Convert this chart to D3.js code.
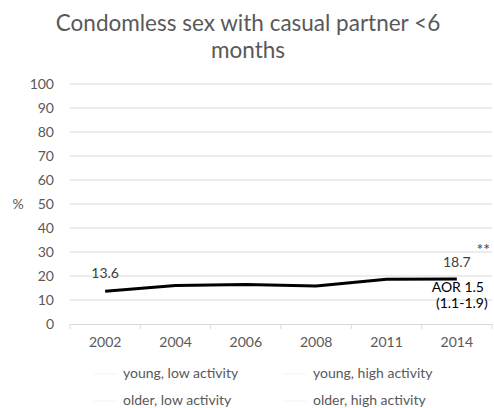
<!DOCTYPE html>
<html>
<head>
<meta charset="utf-8">
<script src="https://cdn.jsdelivr.net/npm/d3@7"></script>
<style>
  body { margin: 0; background: #fff; }
  text { font-family: Lato, "Open Sans", sans-serif; }
</style>
</head>
<body>
<div id="chart"></div>
<script>
// data
const years = ["2002", "2004", "2006", "2008", "2011", "2014"];
const values = [13.6, 16.0, 16.5, 15.8, 18.6, 18.7];
const yTicks = [0, 10, 20, 30, 40, 50, 60, 70, 80, 90, 100];
const legendLabels = ["young, low activity", "young, high activity", "older, low activity", "older, high activity"];

const W = 494, H = 408;
const margin = { top: 84, right: 2, bottom: 84, left: 70 };
const width = W - margin.left - margin.right;
const height = H - margin.top - margin.bottom;
const fs = 14;

const svg = d3.select("#chart")
    .append("svg")
    .attr("width", W)
    .attr("height", H);

// Title
svg.append("text")
    .attr("x", W / 2 + 1).attr("y", 31)
    .attr("text-anchor", "middle")
    .attr("font-size", 22.5)
    .attr("fill", "#595959")
    .text("Condomless sex with casual partner <6");
svg.append("text")
    .attr("x", W / 2 + 1).attr("y", 58)
    .attr("text-anchor", "middle")
    .attr("font-size", 22.5)
    .attr("fill", "#595959")
    .text("months");

const g = svg.append("g")
    .attr("transform", `translate(${margin.left},${margin.top})`);

const x = d3.scaleBand().domain(years).range([0, width]);
const y = d3.scaleLinear().domain([0, 100]).range([height, 0]);

// Gridlines
g.append("g")
    .selectAll("line")
    .data(yTicks.filter(d => d > 0))
    .enter().append("line")
    .attr("x1", 0).attr("x2", width)
    .attr("y1", d => y(d)).attr("y2", d => y(d))
    .attr("stroke", "#d9d9d9")
    .attr("stroke-width", 1);

// Y axis
const yAxis = g.append("g")
    .call(d3.axisLeft(y).tickValues(yTicks).tickSize(0).tickPadding(16));
yAxis.select(".domain").remove();
yAxis.selectAll("text")
    .attr("font-size", fs)
    .attr("fill", "#595959")
    .style("font-family", "Lato, 'Open Sans', sans-serif");

// X axis
const xAxis = g.append("g")
    .attr("transform", `translate(0,${height})`)
    .call(d3.axisBottom(x).tickSize(0).tickPadding(13));
xAxis.select(".domain").attr("stroke", "#d9d9d9");
xAxis.selectAll("text")
    .attr("font-size", fs)
    .attr("fill", "#595959")
    .style("font-family", "Lato, 'Open Sans', sans-serif");
// tick marks between categories
g.append("g")
    .selectAll("line")
    .data(years)
    .enter().append("line")
    .attr("x1", d => x(d)).attr("x2", d => x(d))
    .attr("y1", height).attr("y2", height + 5)
    .attr("stroke", "#d9d9d9");
g.append("line")
    .attr("x1", width).attr("x2", width)
    .attr("y1", height).attr("y2", height + 5)
    .attr("stroke", "#d9d9d9");

// y label
svg.append("text")
    .attr("x", 18).attr("y", y(50) + margin.top + 5)
    .attr("text-anchor", "middle")
    .attr("font-size", fs)
    .attr("fill", "#595959")
    .text("%");

// Line
const line = d3.line()
    .x((d, i) => x(years[i]) + x.bandwidth() / 2)
    .y(d => y(d));
g.append("path")
    .datum(values)
    .attr("fill", "none")
    .attr("stroke", "#000")
    .attr("stroke-width", 3)
    .attr("d", line);

// Data labels
const cx = i => x(years[i]) + x.bandwidth() / 2;
g.append("text")
    .attr("x", cx(0)).attr("y", y(values[0]) - 13)
    .attr("text-anchor", "middle")
    .attr("font-size", fs)
    .attr("fill", "#404040")
    .text(values[0].toFixed(1));
const last = values.length - 1;
g.append("text")
    .attr("x", cx(last)).attr("y", y(values[last]) - 12)
    .attr("text-anchor", "middle")
    .attr("font-size", fs)
    .attr("fill", "#404040")
    .text(values[last].toFixed(1));
g.append("text")
    .attr("x", width - 2).attr("y", y(values[last]) - 24)
    .attr("text-anchor", "end")
    .attr("font-size", 16)
    .attr("fill", "#404040")
    .text("**");
g.append("text")
    .attr("x", cx(last) + 1).attr("y", y(values[last]) + 13)
    .attr("text-anchor", "middle")
    .attr("font-size", fs)
    .attr("fill", "#000")
    .text("AOR 1.5");
g.append("text")
    .attr("x", cx(last) + 5).attr("y", y(values[last]) + 29)
    .attr("text-anchor", "middle")
    .attr("font-size", fs)
    .attr("fill", "#000")
    .text("(1.1-1.9)");

// Legend (series drawn in white in the original)
const legend = svg.append("g");
legendLabels.forEach((label, i) => {
    const col = i % 2, row = Math.floor(i / 2);
    const lx = 123 + col * 190, ly = 378 + row * 27;
    legend.append("line")
        .attr("x1", lx - 30).attr("x2", lx - 6)
        .attr("y1", ly - 4).attr("y2", ly - 4)
        .attr("stroke", "#fafafa")
        .attr("stroke-width", 2);
    legend.append("text")
        .attr("x", lx).attr("y", ly)
        .attr("font-size", fs)
        .attr("fill", "#595959")
        .text(label);
});
</script>
</body>
</html>
